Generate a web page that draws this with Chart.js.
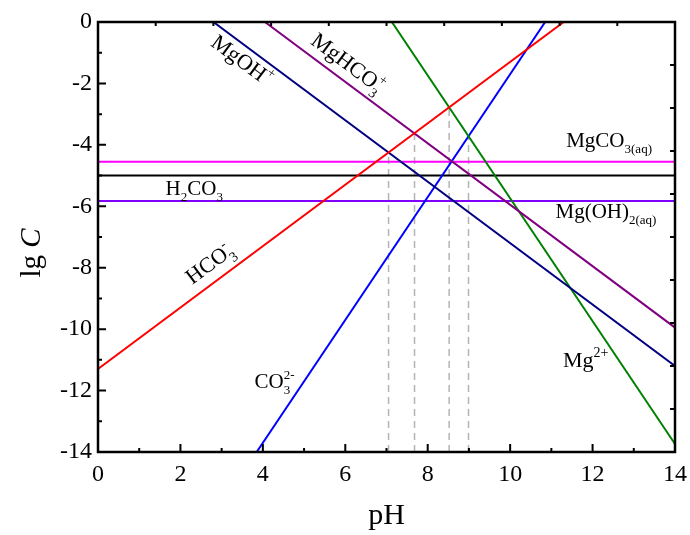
<!DOCTYPE html>
<html>
<head>
<meta charset="utf-8">
<script src="https://cdn.jsdelivr.net/npm/chart.js@4"></script>
<style>
  html, body { margin: 0; padding: 0; background: #fff; }
  #wrap { width: 690px; height: 535px; }
</style>
</head>
<body>
<div id="wrap"><canvas id="c"></canvas></div>
<script>
// line end points: [pH, lgC]
const hco3 = [[0, -11.3], [11.3, 0]];
const mgoh = [[2.8, 0], [14, -11.2]];
const mghco3 = [[4.05, 0], [14, -9.95]];
const mg = [[7.13, 0], [14, -13.74]];
const co3 = [[3.85, -14], [10.85, 0]];
const mgco3aq = [[0, -4.55], [14, -4.55]];
const h2co3 = [[0, -5.0], [14, -5.0]];
const mgoh2aq = [[0, -5.83], [14, -5.83]];

// gray dashed guides: pH and the lgC where each stops
const guideX = [7.05, 7.68, 8.52, 8.99];
const guideTop = [-4.25, -3.62, -2.79, -3.72];

const xTicks = [0, 2, 4, 6, 8, 10, 12, 14];
const yTicks = [0, -2, -4, -6, -8, -10, -12, -14];

function pts(a) { return a.map(p => ({x: p[0], y: p[1]})); }

function line(data, color) {
  return {data: pts(data), showLine: true, borderColor: color, borderWidth: 2,
          pointRadius: 0, fill: false};
}

let datasets = [
  line(hco3, '#ff0000'),
  line(mgoh, '#000080'),
  line(mghco3, '#800080'),
  line(mg, '#008000'),
  line(co3, '#0000ff'),
  line(mgco3aq, '#ff00ff'),
  line(h2co3, '#000000'),
  line(mgoh2aq, '#8000ff')
];
guideX.forEach((x, i) => {
  datasets.push({data: [{x: x, y: -14}, {x: x, y: guideTop[i]}], showLine: true,
    borderColor: '#b4b4b4', borderWidth: 1.5, borderDash: [7, 5], pointRadius: 0});
});

// text labels: parts, anchor (data coords), angle in degrees, center or left-baseline
const labels = [
  {parts: [['MgOH'], ['+', 'sup']], x: 3.5, y: -1.24, angle: 36.7, center: true, size: 22},
  {parts: [['MgHCO'], ['3', 'sub', true], ['+', 'sup']], x: 6.07, y: -1.33, angle: 36.7, center: true, size: 22},
  {parts: [['HCO'], ['-', 'sup', true], ['3', 'sub']], x: 2.7, y: -7.85, angle: -36.7, center: true, size: 22},
  {parts: [['H'], ['2', 'sub'], ['CO'], ['3', 'sub']], x: 1.64, y: -5.63, angle: 0, size: 21},
  {parts: [['MgCO'], ['3(aq)', 'sub']], x: 11.36, y: -4.07, angle: 0, size: 21},
  {parts: [['Mg(OH)'], ['2(aq)', 'sub']], x: 11.1, y: -6.38, angle: 0, size: 21},
  {parts: [['CO'], ['2-', 'sup', true], ['3', 'sub']], x: 3.8, y: -11.92, angle: 0, size: 21},
  {parts: [['Mg'], ['2+', 'sup']], x: 11.28, y: -11.23, angle: 0, size: 22}
];

const SERIF = '"Liberation Serif", "Times New Roman", serif';

function drawRich(ctx, lb, px, py) {
  const big = lb.size, small = Math.round(lb.size * 0.63);
  let w = 0;
  lb.parts.forEach(p => {
    ctx.font = (p[1] ? small : big) + 'px ' + SERIF;
    if (!p[2]) w += ctx.measureText(p[0]).width;
  });
  ctx.save();
  ctx.translate(px, py);
  ctx.rotate(lb.angle * Math.PI / 180);
  let x = 0;
  if (lb.center) { x = -w / 2; ctx.translate(0, big * 0.33); }
  ctx.fillStyle = '#000';
  ctx.textBaseline = 'alphabetic';
  lb.parts.forEach(p => {
    ctx.font = (p[1] ? small : big) + 'px ' + SERIF;
    let dy = 0;
    if (p[1] == 'sub') dy = big * 0.3;
    if (p[1] == 'sup') dy = -big * 0.45;
    ctx.fillText(p[0], x, dy);
    if (!p[2]) x += ctx.measureText(p[0]).width;
  });
  ctx.restore();
}

const framePlugin = {
  id: 'frame',
  afterDraw(chart) {
    const ctx = chart.ctx, a = chart.chartArea;
    const xs = chart.scales.x, ys = chart.scales.y;
    ctx.save();
    ctx.strokeStyle = '#000';
    // inward ticks
    ctx.lineWidth = 2;
    ctx.beginPath();
    for (let v = 0; v <= 14; v++) {
      const len = v % 2 == 0 ? 8 : 4;
      const px = xs.getPixelForValue(v);
      ctx.moveTo(px, a.bottom); ctx.lineTo(px, a.bottom - len);
      const py = ys.getPixelForValue(-v);
      ctx.moveTo(a.left, py); ctx.lineTo(a.left + len, py);
    }
    for (let k = 1; k < 10; k++) {
      const px = xs.getPixelForValue(1.4 * k);
      ctx.moveTo(px, a.top); ctx.lineTo(px, a.top + 4);
      const py = ys.getPixelForValue(-1.4 * k);
      ctx.moveTo(a.right, py); ctx.lineTo(a.right - 5, py);
    }
    ctx.stroke();
    ctx.lineWidth = 2.5;
    ctx.strokeRect(a.left, a.top, a.right - a.left, a.bottom - a.top);

    // curve labels
    labels.forEach(lb => {
      drawRich(ctx, lb, xs.getPixelForValue(lb.x), ys.getPixelForValue(lb.y));
    });

    // axis titles
    ctx.fillStyle = '#000';
    ctx.textBaseline = 'alphabetic';
    ctx.font = '30px ' + SERIF;
    ctx.textAlign = 'center';
    ctx.fillText('pH', (a.left + a.right) / 2, 524);
    ctx.save();
    ctx.translate(40, 253);
    ctx.rotate(-Math.PI / 2);
    ctx.textAlign = 'left';
    const t1 = 'lg ';
    ctx.font = '29px ' + SERIF;
    const w1 = ctx.measureText(t1).width;
    ctx.font = 'italic 29px ' + SERIF;
    const w2 = ctx.measureText('C').width;
    ctx.font = '29px ' + SERIF;
    ctx.fillText(t1, -(w1 + w2) / 2, 0);
    ctx.font = 'italic 29px ' + SERIF;
    ctx.fillText('C', -(w1 + w2) / 2 + w1, 0);
    ctx.restore();
    ctx.restore();
  }
};

new Chart(document.getElementById('c'), {
  type: 'scatter',
  data: {datasets: datasets},
  options: {
    responsive: true,
    maintainAspectRatio: false,
    animation: false,
    layout: {padding: {top: 22, right: 15, left: 0, bottom: 0}},
    plugins: {legend: {display: false}, tooltip: {enabled: false}},
    scales: {
      x: {
        type: 'linear', min: 0, max: 14,
        afterBuildTicks: s => { s.ticks = xTicks.map(v => ({value: v})); },
        afterFit: s => { s.height = 83; s.paddingLeft = 0; s.paddingRight = 0; },
        grid: {display: false, drawTicks: false},
        border: {display: false},
        ticks: {padding: 8, color: '#000', font: {family: SERIF, size: 24},
                callback: v => String(v), maxRotation: 0}
      },
      y: {
        type: 'linear', min: -14, max: 0,
        afterBuildTicks: s => { s.ticks = yTicks.map(v => ({value: v})); },
        afterFit: s => { s.width = 98; s.paddingTop = 0; s.paddingBottom = 0; },
        grid: {display: false, drawTicks: false},
        border: {display: false},
        ticks: {padding: 6, color: '#000', font: {family: SERIF, size: 24},
                callback: v => String(v)}
      }
    }
  },
  plugins: [framePlugin]
});
</script>
</body>
</html>
